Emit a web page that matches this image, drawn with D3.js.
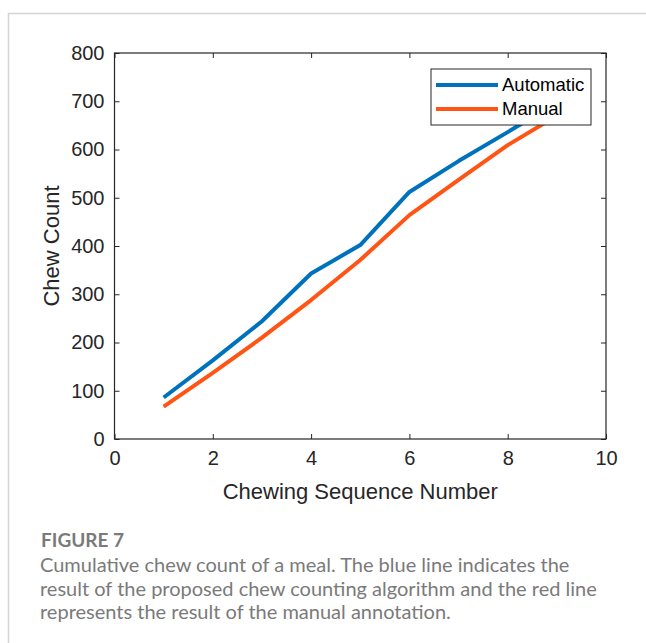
<!DOCTYPE html>
<html lang="en">
<head>
<meta charset="UTF-8">
<title>Figure 7</title>
<script src="https://d3js.org/d3.v7.min.js"></script>
<style>
  body { margin: 0; background: #fff; }
  svg { display: block; }
  .tick text { font-family: "Liberation Sans", Arial, sans-serif; font-size: 20px; fill: #262626; }
  .caption { font-family: Lato, "Open Sans", sans-serif; fill: #7a7a7a; }
</style>
</head>
<body>
<script>
// chart data
var seqNumbers = [1, 2, 3, 4, 5, 6, 7, 8, 9];
var automatic = [86, 163, 244, 343, 402, 512, 576, 636, 697];
var manual = [67, 137, 210, 288, 371, 464, 537, 609, 670];
var seriesNames = ["Automatic", "Manual"];
var seriesColors = ["#0072BD", "#FF5414"];
var xTicks = [0, 2, 4, 6, 8, 10];
var yTicks = [0, 100, 200, 300, 400, 500, 600, 700, 800];
var captionLines = [
  "Cumulative chew count of a meal. The blue line indicates the",
  "result of the proposed chew counting algorithm and the red line",
  "represents the result of the manual annotation."
];

var W = 646, H = 643;
var plotL = 114.5, plotR = 606, plotT = 53, plotB = 439;

var svg = d3.select("body").append("svg").attr("width", W).attr("height", H);

// page frame
svg.append("line").attr("x1", 8).attr("x2", W).attr("y1", 13.5).attr("y2", 13.5)
  .attr("stroke", "#d4d4d4").attr("stroke-width", 1.5);
svg.append("line").attr("x1", 8.5).attr("x2", 8.5).attr("y1", 13).attr("y2", H)
  .attr("stroke", "#d4d4d4").attr("stroke-width", 1.5);

var x = d3.scaleLinear().domain([0, 10]).range([plotL, plotR]);
var y = d3.scaleLinear().domain([0, 800]).range([plotB, plotT]);

var axisColor = "#262626";

function styleAxis(g) {
  g.select(".domain").remove();
  g.selectAll(".tick line").attr("stroke", axisColor).attr("stroke-width", 1);
}

svg.append("g").attr("transform", "translate(0," + plotB + ")")
  .call(d3.axisBottom(x).tickValues(xTicks).tickSizeInner(-5).tickPadding(12).tickFormat(d3.format("d")))
  .call(styleAxis);
svg.append("g").attr("transform", "translate(0," + plotT + ")")
  .call(d3.axisTop(x).tickValues(xTicks).tickSizeInner(-5).tickFormat(""))
  .call(styleAxis);
svg.append("g").attr("transform", "translate(" + plotL + ",0)")
  .call(d3.axisLeft(y).tickValues(yTicks).tickSizeInner(-5).tickPadding(10).tickFormat(d3.format("d")))
  .call(styleAxis);
svg.append("g").attr("transform", "translate(" + plotR + ",0)")
  .call(d3.axisRight(y).tickValues(yTicks).tickSizeInner(-5).tickFormat(""))
  .call(styleAxis);

svg.append("rect").attr("x", plotL).attr("y", plotT)
  .attr("width", plotR - plotL).attr("height", plotB - plotT)
  .attr("fill", "none").attr("stroke", axisColor).attr("stroke-width", 1.2);

// lines
var line = d3.line().x(function (d) { return x(d[0]); }).y(function (d) { return y(d[1]); });
[automatic, manual].forEach(function (vals, i) {
  svg.append("path")
    .datum(seqNumbers.map(function (s, j) { return [s, vals[j]]; }))
    .attr("d", line)
    .attr("fill", "none")
    .attr("stroke", seriesColors[i])
    .attr("stroke-width", 4)
    .attr("stroke-linejoin", "round");
});

// legend
var lg = svg.append("g").attr("transform", "translate(431,69)");
lg.append("rect").attr("width", 160).attr("height", 56)
  .attr("fill", "#fff").attr("stroke", "#262626").attr("stroke-width", 1);
seriesNames.forEach(function (name, i) {
  var yy = 16 + i * 24;
  lg.append("line").attr("x1", 5).attr("x2", 67).attr("y1", yy).attr("y2", yy)
    .attr("stroke", seriesColors[i]).attr("stroke-width", 4);
  lg.append("text").attr("x", 71).attr("y", yy).attr("dy", "0.35em")
    .style("font-family", "Liberation Sans, Arial, sans-serif").style("font-size", "18.5px")
    .attr("fill", "#000").text(name);
});

// axis titles
svg.append("text").attr("x", (plotL + plotR) / 2).attr("y", 491).attr("dy", "0.35em")
  .attr("text-anchor", "middle")
  .style("font-family", "Liberation Sans, Arial, sans-serif").style("font-size", "22px")
  .attr("fill", axisColor).text("Chewing Sequence Number");
svg.append("text").attr("transform", "translate(51," + (plotT + plotB) / 2 + ") rotate(-90)")
  .attr("dy", "0.35em").attr("text-anchor", "middle")
  .style("font-family", "Liberation Sans, Arial, sans-serif").style("font-size", "22px")
  .attr("fill", axisColor).text("Chew Count");

// caption
svg.append("text").attr("class", "caption").attr("x", 41).attr("y", 540).attr("dy", "0.35em")
  .style("font-size", "19px").style("font-weight", "bold").attr("fill", "#666").text("FIGURE 7");
captionLines.forEach(function (t, i) {
  svg.append("text").attr("class", "caption").attr("x", 40).attr("y", 565 + i * 23.5).attr("dy", "0.35em")
    .style("font-size", "20px").text(t);
});
</script>
</body>
</html>
